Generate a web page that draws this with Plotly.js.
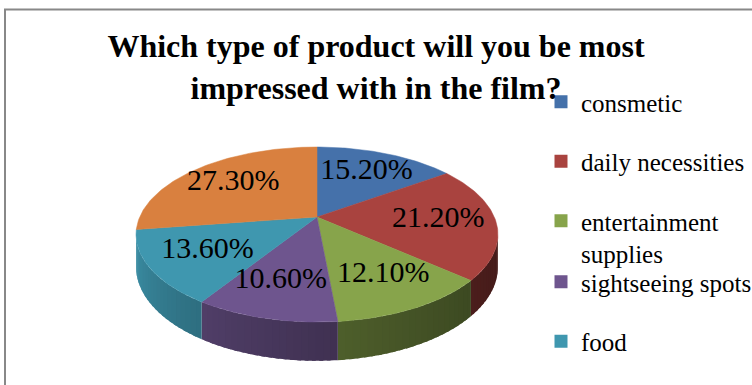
<!DOCTYPE html>
<html>
<head>
<meta charset="utf-8">
<script src="https://cdn.plot.ly/plotly-3.0.1.min.js"></script>
<style>html,body{margin:0;padding:0;background:#fff;}#chart{width:752px;height:385px;}</style>
</head>
<body>
<div id="chart"></div>
<script>
// ---- data ----
const categories = ['consmetic', 'daily necessities', 'entertainment supplies', 'sightseeing spots', 'food', 'other'];
const legendLabels = ['consmetic', 'daily necessities', 'entertainment<br>supplies', 'sightseeing spots', 'food', 'other'];
const values = [15.2, 21.2, 12.1, 10.6, 13.6, 27.3];
const topColors = ['#4571AA', '#A9433F', '#87A44B', '#6E558E', '#3F97AF', '#D9803F'];
const inLegend = [true, true, true, true, true, false];
const legendOf = ['legend', 'legend', 'legend', 'legend2', 'legend2', 'legend'];

// ---- perspective view of the tilted pie (axes in pixel units) ----
const W = 752, H = 385;
const cx = 317, cy = 217;          // pie centre on screen
const A = 177.3, B = 84, E = 0.2;  // horizontal radius, vertical radius, perspective
const depth = 31;                  // thickness of the pie
function proj(deg, f, down) {
  const t = deg * Math.PI / 180;
  const s = Math.sin(t) * f, c = Math.cos(t) * f;
  const w = 1 + E * c;
  return [cx + A * s / w, cy - B * c / w + (down || 0) / w];
}
function arc(a0, a1, down) {
  const xs = [], ys = [];
  const n = Math.max(2, Math.ceil(Math.abs(a1 - a0)));
  for (let i = 0; i <= n; i++) {
    const p = proj(a0 + (a1 - a0) * i / n, 1, down);
    xs.push(p[0]); ys.push(p[1]);
  }
  return [xs, ys];
}
function shade(hex, k) {
  const n = parseInt(hex.slice(1), 16);
  const r = Math.round(((n >> 16) & 255) * k), g = Math.round(((n >> 8) & 255) * k), b = Math.round((n & 255) * k);
  return 'rgb(' + r + ',' + g + ',' + b + ')';
}

const total = values.reduce((a, b) => a + b, 0);
const starts = [], ends = [];
let acc = 0;
values.forEach(v => { starts.push(acc / total * 360); acc += v; ends.push(acc / total * 360); });

// visible part of the rim: between the two silhouette tangents
const silhouette = Math.acos(-E) * 180 / Math.PI;
const visLo = silhouette, visHi = 360 - silhouette;
function light(deg) {
  const t = Math.min(1, Math.max(0, (deg - visLo) / (visHi - visLo)));
  return 0.4 + 0.55 * Math.pow(t, 1.5);
}

const traces = [];
// side walls, drawn in overlapping thin strips so the lighting can vary around the rim
values.forEach((v, i) => {
  const lo = Math.max(starts[i], visLo), hi = Math.min(ends[i], visHi);
  if (lo >= hi) return;
  const n = Math.max(1, Math.ceil((hi - lo) / 2));
  for (let k = 0; k < n; k++) {
    const a0 = lo + (hi - lo) * k / n;
    const a1 = Math.min(hi, lo + (hi - lo) * (k + 1) / n + 1);
    const top = arc(a0, a1, 0), bot = arc(a1, a0, depth);
    const col = shade(topColors[i], light((a0 + a1) / 2));
    traces.push({
      type: 'scatter', mode: 'none', fill: 'toself',
      x: top[0].concat(bot[0]), y: top[1].concat(bot[1]),
      fillcolor: col,
      hoverinfo: 'skip', showlegend: false
    });
  }
});
// top surface
values.forEach((v, i) => {
  const a = arc(starts[i], ends[i], 0);
  traces.push({
    type: 'scatter', mode: 'lines', fill: 'toself', name: categories[i],
    x: [cx].concat(a[0], [cx]), y: [cy].concat(a[1], [cy]),
    fillcolor: topColors[i], line: {color: topColors[i], width: 0.5},
    hoverinfo: 'name', showlegend: false
  });
});

// percentage labels, placed inside each slice, then pushed apart if they collide
const labelSize = 30;
const charW = ch => (ch === '.' ? 0.25 : ch === '%' ? 0.833 : 0.5);
const lx = [], ly = [], lt = [], lw = [];
values.forEach((v, i) => {
  const p = proj((starts[i] + ends[i]) / 2, 0.68, 0);
  const txt = v.toFixed(2) + '%';
  lx.push(p[0]); ly.push(p[1]); lt.push(txt);
  lw.push(txt.split('').reduce((s, ch) => s + charW(ch), 0) * labelSize);
});
for (let it = 0; it < 10; it++) {
  for (let i = 0; i < lx.length; i++) for (let j = i + 1; j < lx.length; j++) {
    const need = (lw[i] + lw[j]) / 2 + 10;
    const dx = lx[j] - lx[i];
    if (Math.abs(ly[j] - ly[i]) < labelSize * 0.8 && Math.abs(dx) < need) {
      const push = (need - Math.abs(dx)) / 2 * (dx >= 0 ? 1 : -1);
      lx[i] -= push; lx[j] += push;
    }
  }
}
traces.push({
  type: 'scatter', mode: 'text', x: lx, y: ly, text: lt,
  textposition: 'middle center',
  textfont: {family: 'Liberation Serif', size: labelSize, color: '#000'},
  hoverinfo: 'skip', showlegend: false
});
// legend entries
values.forEach((v, i) => {
  if (!inLegend[i]) return;
  traces.push({
    type: 'scatter', mode: 'markers', x: [null], y: [null],
    name: legendLabels[i], legendgroup: 'g' + i, legend: legendOf[i],
    marker: {symbol: 'square', size: 13, color: topColors[i]},
    hoverinfo: 'skip', showlegend: true
  });
});

const legendFont = {family: 'Liberation Serif', size: 25, color: '#000'};
const legendBase = {
  x: 541 / W, xanchor: 'left', yanchor: 'top',
  bgcolor: 'rgba(0,0,0,0)', borderwidth: 0, font: legendFont,
  traceorder: 'grouped', tracegroupgap: 24, valign: 'top', itemclick: false
};
const layout = {
  width: W, height: H,
  margin: {l: 0, r: 0, t: 0, b: 0, autoexpand: false},
  paper_bgcolor: '#fff', plot_bgcolor: '#fff',
  xaxis: {range: [0, W], visible: false, fixedrange: true},
  yaxis: {range: [H, 0], visible: false, fixedrange: true},
  title: {
    text: 'Which type of product will you be most<br>impressed with in the film?',
    x: 0.5, xanchor: 'center', xref: 'container',
    y: 1 - 57 / H, yanchor: 'top', yref: 'container',
    font: {family: 'Liberation Serif', size: 32, weight: 'bold', color: '#000'}
  },
  legend: Object.assign({}, legendBase, {y: 1 - 79 / H}),
  legend2: Object.assign({}, legendBase, {y: 1 - 259 / H}),
  shapes: [{
    type: 'rect', xref: 'x', yref: 'y', x0: 5, y0: 9.5, x1: W + 20, y1: H + 20,
    line: {color: '#888888', width: 2}, fillcolor: 'rgba(0,0,0,0)', layer: 'below'
  }],
  showlegend: true
};
Plotly.newPlot('chart', traces, layout, {displayModeBar: false, staticPlot: true});
</script>
</body>
</html>
